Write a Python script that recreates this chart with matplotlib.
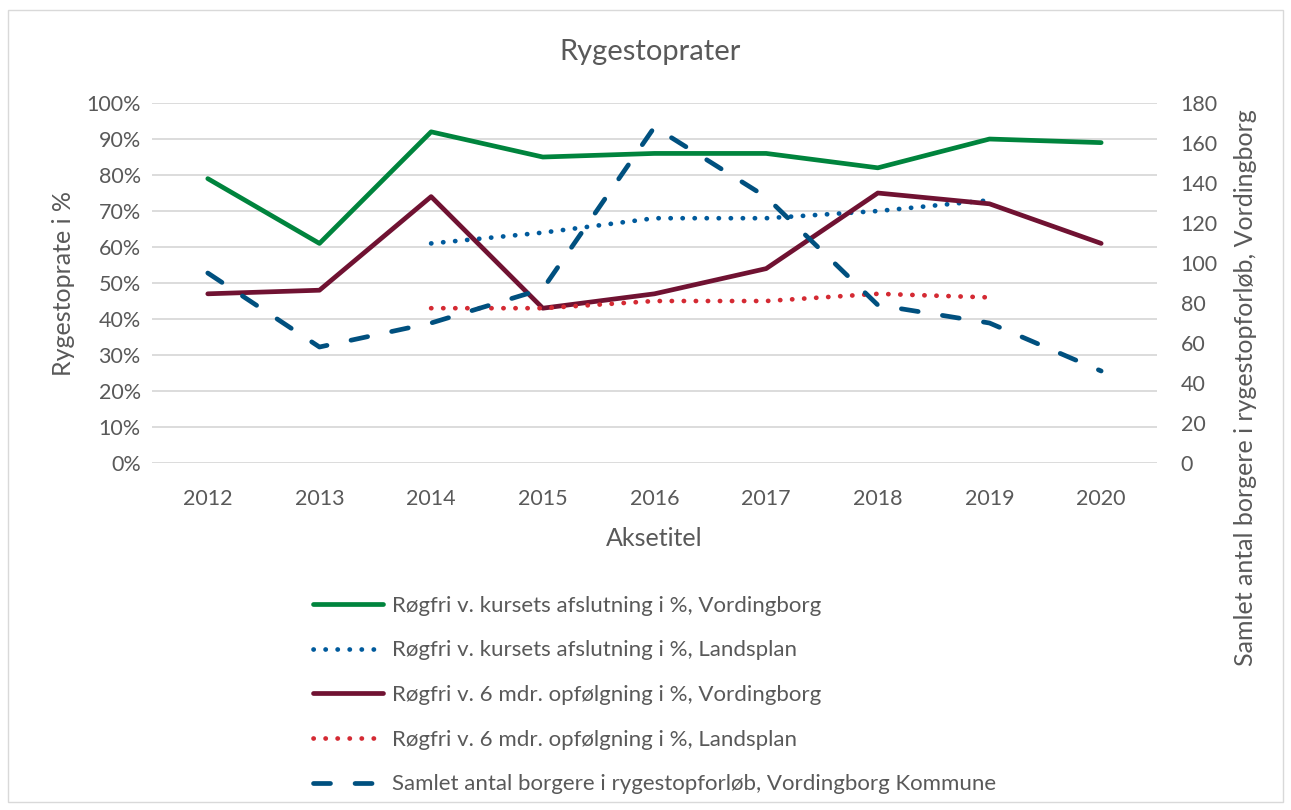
import matplotlib
matplotlib.use("Agg")
import matplotlib.pyplot as plt
from matplotlib.patches import Rectangle
from matplotlib.ticker import FuncFormatter

plt.rcParams["font.family"] = ["Lato", "DejaVu Sans"]

years = ["2012", "2013", "2014", "2015", "2016", "2017", "2018", "2019", "2020"]
kursus_vording = [79, 61, 92, 85, 86, 86, 82, 90, 89]
kursus_lands = [None, None, 61, 64, 68, 68, 70, 73, None]
opf_vording = [47, 48, 74, 43, 47, 54, 75, 72, 61]
opf_lands = [None, None, 43, 43, 45, 45, 47, 46, None]
antal_borgere = [95, 58, 70, 87, 168, 133, 79, 70, 46]

GRAY = "#595959"
x = list(range(len(years)))


def _xy(vals):
    pts = [(i, v) for i, v in zip(x, vals) if v is not None]
    return [p[0] for p in pts], [p[1] for p in pts]


fig = plt.figure(figsize=(12.91, 8.10), dpi=100)
ax = fig.add_axes([0.1177, 0.4284, 0.7785, 0.4444])
ax2 = ax.twinx()

lw = 3.4
h1, = ax.plot(*_xy(kursus_vording), color="#00843D", lw=lw, solid_capstyle="round",
              label="Røgfri v. kursets afslutning i %, Vordingborg")
h2, = ax.plot(*_xy(kursus_lands), color="#005A9C", lw=lw, ls=(0, (0.05, 2.5)),
              dash_capstyle="round", label="Røgfri v. kursets afslutning i %, Landsplan")
h3, = ax.plot(*_xy(opf_vording), color="#701232", lw=lw, solid_capstyle="round",
              label="Røgfri v. 6 mdr. opfølgning i %, Vordingborg")
h4, = ax.plot(*_xy(opf_lands), color="#D42A33", lw=lw, ls=(0, (0.05, 2.5)),
              dash_capstyle="round", label="Røgfri v. 6 mdr. opfølgning i %, Landsplan")
h5, = ax2.plot(x, antal_borgere, color="#00507F", lw=lw, ls=(0, (3.6, 5.2)),
               dash_capstyle="round",
               label="Samlet antal borgere i rygestopforløb, Vordingborg Kommune")

ax.set_xlim(-0.5, len(years) - 0.5)
ax.set_ylim(0, 100)
ax.set_yticks(range(0, 101, 10))
ax.yaxis.set_major_formatter(FuncFormatter(lambda v, p: f"{int(v)}%"))
ax2.set_ylim(0, 180)
ax2.set_yticks(range(0, 181, 20))
ax.set_xticks(x)
ax.set_xticklabels(years)
ax.grid(axis="y", color="#D9D9D9", lw=1.3)
ax.set_axisbelow(True)
for a in (ax, ax2):
    for s in a.spines.values():
        s.set_visible(False)
    a.tick_params(length=0, labelsize=15.5, labelcolor=GRAY)
ax.tick_params(axis="x", pad=19)
ax.tick_params(axis="y", pad=8)
ax2.tick_params(axis="y", pad=17)

ax.set_xlabel("Aksetitel", fontsize=18, color=GRAY, labelpad=13)
ax.set_ylabel("Rygestoprate i %", fontsize=18, color=GRAY, labelpad=8)
# right axis title sits lower than the plot centre in the original
fig.text(0.9645, 0.522, "Samlet antal borgere i rygestopforløb, Vordingborg",
         rotation=90, ha="center", va="center", fontsize=18, color=GRAY)
fig.text(0.5035, 0.936, "Rygestoprater", ha="center", va="center",
         fontsize=21, color=GRAY)

fig.legend(handles=[h1, h2, h3, h4, h5], loc="upper left",
           bbox_to_anchor=(0.2425, 0.2645), frameon=False, fontsize=16,
           labelcolor=GRAY, handlelength=3.15, handletextpad=0.4,
           labelspacing=1.11, borderpad=0, borderaxespad=0)

fig.patches.append(Rectangle((0.006, 0.01), 0.988, 0.978, transform=fig.transFigure,
                             fill=False, edgecolor="#D9D9D9", lw=1))

fig.savefig("out.png", dpi=100)
